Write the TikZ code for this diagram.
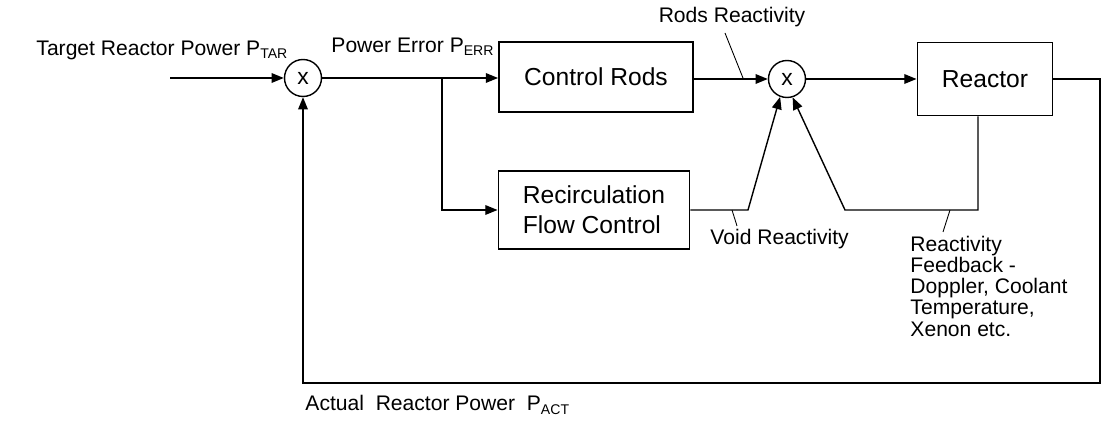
\documentclass[tikz,border=0pt]{standalone}
\usepackage{fontspec}
\setmainfont{Liberation Sans}
\usepackage{tikz}
\usetikzlibrary{arrows.meta,positioning,calc}

\begin{document}
\begin{tikzpicture}[
  x=0.02cm,y=-0.02cm,
  font=\fontsize{12}{12}\selectfont,
  line width=0.8pt,
  box/.style={draw,line width=1.1pt,align=center,inner sep=2pt,font=\fontsize{14}{17}\selectfont},
  sum/.style={draw,circle,minimum size=0.74cm,inner sep=0pt,font=\fontsize{13}{13}\selectfont},
  lbl/.style={inner sep=1pt,align=left},
  arr/.style={-{Triangle[length=7pt,width=5.5pt]}}
]
\useasboundingbox (0,0) rectangle (1103,428);
% blocks
\node[sum] (sum1) at (303,78) {x};
\node[box,minimum width=3.88cm,minimum height=1.4cm] (rods) at (596,77) {Control Rods};
\node[box,minimum width=3.82cm,minimum height=1.56cm,align=left] (recirc) at (594,210) {Recirculation\\Flow Control};
\node[sum] (sum2) at (787,79) {x};
\node[box,minimum width=2.7cm,minimum height=1.46cm] (reactor) at (985,79) {Reactor};

% labels
\node[lbl,anchor=west] (ptar) at (34,50) {Target Reactor Power P\textsubscript{TAR}};
\node[lbl,anchor=west] (perr) at (329,47) {Power Error P\textsubscript{ERR}};
\node[lbl] (rr) at (732,17) {Rods Reactivity};
\node[lbl,anchor=west] (vlab) at (708,239) {Void Reactivity};
\node[lbl,anchor=north west] (rfb) at (908,234) {Reactivity\\Feedback -\\Doppler, Coolant\\Temperature,\\Xenon etc.};
\node[lbl,anchor=west] (pact) at (303,405) {Actual~ Reactor Power~ P\textsubscript{ACT}};

% points on the lines
\coordinate (in) at (170,78);
\coordinate (br) at (442,78);
\coordinate (vr) at (748,210);
\coordinate (fb) at (845,210);
\coordinate (corner) at (1100,383);
\coordinate (rrend) at (743,78);
\coordinate (vrend) at (732,210);
\coordinate (fbend) at (950,210);

% signal flow
\draw[arr] (in) -- (sum1);
\draw[arr] (sum1) -- (rods.west |- sum1);
\draw[arr] (br) |- (recirc.west);
\draw[arr] (rods.east |- sum2) -- (sum2);
\draw[arr] (sum2) -- (reactor.west |- sum2);
\draw[arr] (recirc.east) -- (vr) -- (sum2.-111);
\draw[arr] ([xshift=-0.14cm]reactor.south) |- (fb) -- (sum2.-73);
\draw[arr] (reactor.east |- sum2) -| (corner) -| (sum1.south);

% leaders
\draw[line width=0.5pt] (725,33) -- (rrend);
\draw[line width=0.5pt] (vrend) -- (737,226);
\draw[line width=0.5pt] (fbend) -- (943,232);
\end{tikzpicture}
\end{document}
